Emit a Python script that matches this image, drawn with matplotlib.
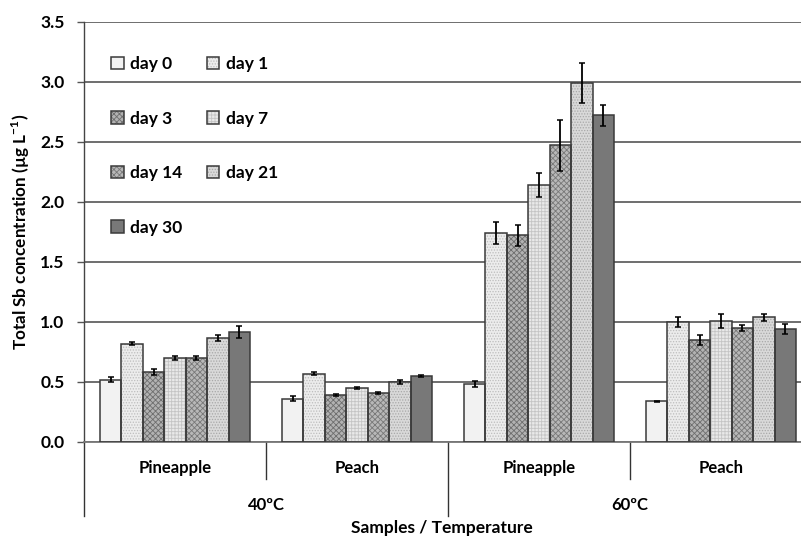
import matplotlib
matplotlib.use("Agg")
import matplotlib.pyplot as plt
import matplotlib.transforms as mtransforms
from matplotlib.patches import Patch
from matplotlib.legend_handler import HandlerTuple
import numpy as np

plt.rcParams['font.family'] = ['Lato', 'DejaVu Sans']
plt.rcParams['font.weight'] = 'bold'
plt.rcParams['hatch.linewidth'] = 0.6

# ---------------- data ----------------
samples = ["Pineapple", "Peach", "Pineapple", "Peach"]
temperatures = ["40ºC", "60ºC"]
days = ["day 0", "day 1", "day 3", "day 7", "day 14", "day 21", "day 30"]

# values[day][sample]
day0  = [0.52, 0.36, 0.48, 0.34]
day1  = [0.82, 0.57, 1.74, 1.00]
day3  = [0.58, 0.39, 1.72, 0.85]
day7  = [0.70, 0.45, 2.14, 1.01]
day14 = [0.70, 0.41, 2.47, 0.95]
day21 = [0.87, 0.50, 2.99, 1.04]
day30 = [0.92, 0.55, 2.72, 0.94]

err0  = [0.02, 0.02, 0.025, 0.005]
err1  = [0.015, 0.01, 0.09, 0.045]
err3  = [0.025, 0.01, 0.09, 0.04]
err7  = [0.02, 0.01, 0.10, 0.06]
err14 = [0.015, 0.01, 0.21, 0.022]
err21 = [0.025, 0.02, 0.17, 0.03]
err30 = [0.05, 0.005, 0.09, 0.04]

values = [day0, day1, day3, day7, day14, day21, day30]
errors = [err0, err1, err3, err7, err14, err21, err30]

# styles: facecolor, hatch, hatchcolor
faces   = ['#f2f2f2', '#ececec', '#b2b2b2', '#e9e9e9', '#b8b8b8', '#d9d9d9', '#787878']
hatches = [None, '......', 'xxxxxx', '+++++', 'xxxxxx', '......', None]
hcolors = ['#f2f2f2', '#bdbdbd', '#6e6e6e', '#c4c4c4', '#787878', '#a8a8a8', '#787878']
edge = '#3a3a3a'

W, H = 801, 538
fig = plt.figure(figsize=(W / 100, H / 100), dpi=100)
ax_left, ax_right, ax_top, ax_bot = 84, 812, 21.7, 442
ax = fig.add_axes([ax_left / W, 1 - ax_bot / H, (ax_right - ax_left) / W, (ax_bot - ax_top) / H])

x = np.arange(len(samples))
bw = 0.118
n = len(days)
handles = []
for i in range(n):
    pos = x + (i - (n - 1) / 2) * bw
    ax.bar(pos, values[i], bw, color=faces[i], hatch=hatches[i], edgecolor=hcolors[i],
           linewidth=0, zorder=2)
    ax.bar(pos, values[i], bw, facecolor='none', edgecolor=edge, linewidth=1.1, zorder=3)
    ax.errorbar(pos, values[i], yerr=errors[i], fmt='none', ecolor='black',
                elinewidth=1.3, capsize=2, capthick=1.1, zorder=4)
    hp = Patch(facecolor=faces[i], hatch=hatches[i], edgecolor=hcolors[i], linewidth=0)
    ep = Patch(facecolor='none', edgecolor=edge, linewidth=1.1)
    handles.append((hp, ep))

ax.set_xlim(-0.5, len(samples) - 0.5)
ax.set_ylim(0, 3.5)
ax.set_yticks(np.arange(0, 3.51, 0.5))
ax.set_yticklabels([f"{v:.1f}" for v in np.arange(0, 3.51, 0.5)], fontsize=12.5, fontweight='bold')
ax.tick_params(axis='y', length=5, width=1, color='#555555', pad=9)
ax.set_xticks([])
ax.yaxis.grid(True, color='#555555', linewidth=1.2)
ax.set_axisbelow(True)
for s in ['top', 'right']:
    ax.spines[s].set_visible(False)
ax.spines['left'].set_color('#444444')
ax.spines['left'].set_linewidth(1.0)
ax.spines['bottom'].set_color('#777777')
ax.spines['bottom'].set_linewidth(1.3)

ax.set_ylabel('Total Sb concentration (µg L$^{\\mathregular{-1}}$)', fontsize=12.3,
              fontweight='bold', labelpad=6)

# category axis below
trans = mtransforms.blended_transform_factory(ax.transData, ax.transAxes)
hpx = ax_bot - ax_top
def ay(py):
    return (ax_bot - py) / hpx

for i, s in enumerate(samples):
    ax.text(x[i], ay(468), s, transform=trans, ha='center', va='center',
            fontsize=12, fontweight='bold')
for j, t in enumerate(temperatures):
    ax.text(2 * j + 0.5, ay(505), t, transform=trans, ha='center', va='center',
            fontsize=12, fontweight='bold')
for b in [-0.5, 1.5, 3.5]:
    ax.plot([b, b], [0, ay(516)], transform=trans, color='#333333', lw=1.0, clip_on=False)
for b in [0.5, 2.5]:
    ax.plot([b, b], [0, ay(479)], transform=trans, color='#333333', lw=1.0, clip_on=False)

fig.text(442 / W, 1 - 528 / H, 'Samples / Temperature', ha='center', va='center',
         fontsize=12.5, fontweight='bold')

# legend, row-major order in 2 columns
order = [0, 2, 4, 6, 1, 3, 5]
leg = ax.legend([handles[k] for k in order], [days[k] for k in order], ncol=2,
                handler_map={tuple: HandlerTuple(ndivide=1)},
                loc='upper left', bbox_to_anchor=((111 - ax_left) / (ax_right - ax_left), ay(56)),
                frameon=False, prop={'size': 12.5, 'weight': 'bold'},
                handlelength=0.72, handleheight=0.72, handletextpad=0.4,
                labelspacing=2.22, columnspacing=1.38, borderpad=0, borderaxespad=0)

fig.savefig('out.png', dpi=100)
